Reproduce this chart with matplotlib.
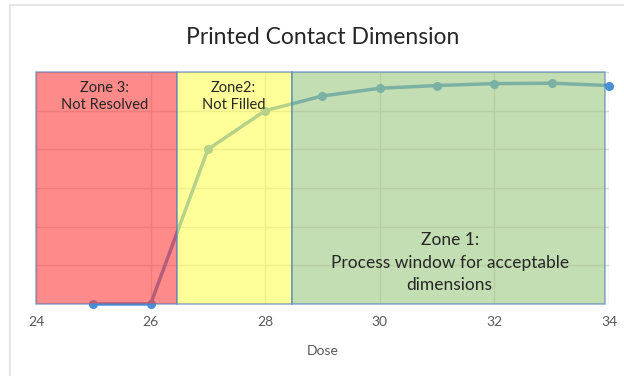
import matplotlib.pyplot as plt
from matplotlib.patches import Rectangle

plt.rcParams['font.family'] = ['Lato', 'DejaVu Sans']

# data (y in arbitrary units, axis has no labels)
dose = [25, 26, 27, 28, 29, 30, 31, 32, 33, 34]
dimension = [0, 0, 40, 50, 53.8, 55.8, 56.5, 57.0, 57.1, 56.5]

# zone limits along the dose axis
zone_edges = [24, 26.46, 28.47, 33.93]
zone_colors = [(1.0, 0.235, 0.235), (1.0, 1.0, 0.333), (0.616, 0.784, 0.51)]
zone_labels = ['Zone 3:\nNot Resolved', 'Zone2:\nNot Filled',
               'Zone 1:\nProcess window for acceptable\ndimensions']

fig = plt.figure(figsize=(6.24, 3.76), dpi=100)
ax = fig.add_axes([36 / 624, 72 / 376, 573 / 624, 232 / 376])

# outer light frame like the original screenshot
fig.add_artist(Rectangle((10 / 624, -0.2), 1.2, 1.2 - 5 / 376,
                         transform=fig.transFigure, fill=False,
                         edgecolor='#e6e6e6', lw=1.5, clip_on=False))

ax.set_xlim(24, 34)
ax.set_ylim(0, 60)
ax.set_xticks([24, 26, 28, 30, 32, 34])
ax.set_yticks(range(0, 61, 10))
ax.tick_params(axis='y', left=False, labelleft=False)
ax.tick_params(axis='x', length=0, labelsize=10, labelcolor='#595959', pad=9)
ax.grid(True, color='#d9d9d9', lw=1, zorder=0)
ax.set_axisbelow(True)
for s in ax.spines.values():
    s.set_visible(False)

ax.plot(dose, dimension, color='#4a8fd6', lw=2.5, marker='o', ms=5.5,
        zorder=2, clip_on=False)

# semi-transparent zone boxes over the curve
for i in range(3):
    x0, x1 = zone_edges[i], zone_edges[i + 1]
    ax.add_patch(Rectangle((x0, 0), x1 - x0, 60, facecolor=zone_colors[i],
                           alpha=0.6, edgecolor='#4f81bd', lw=1.2,
                           zorder=3, clip_on=False))

ax.text(25.2, 57.8, zone_labels[0], ha='center', va='top', fontsize=10.5,
        color='#262626', zorder=4, linespacing=1.3)
ax.text(27.45, 57.8, zone_labels[1], ha='center', va='top', fontsize=10.5,
        color='#262626', zorder=4, linespacing=1.3)
ax.text(31.22, 18.6, zone_labels[2], ha='center', va='top', fontsize=12.5,
        color='#262626', zorder=4, linespacing=1.5)

ax.set_xlabel('Dose', fontsize=10, color='#595959', labelpad=12)
fig.text(0.517, 1 - 37 / 376, 'Printed Contact Dimension', ha='center',
         va='center', fontsize=16.5, color='#262626')

fig.savefig('out.png', dpi=100)
